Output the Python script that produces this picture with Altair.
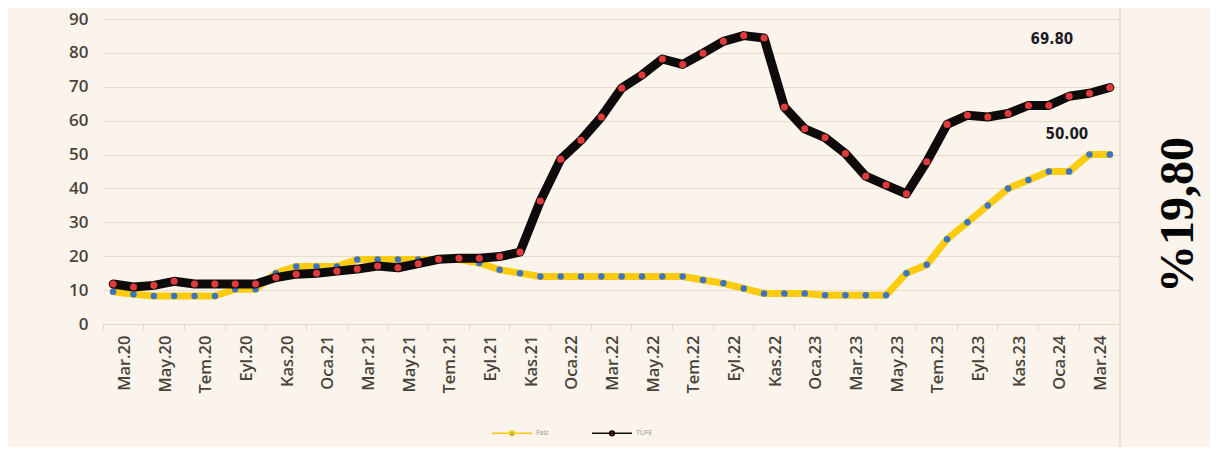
import altair as alt
import pandas as pd

months = ["Mar.20", "Nis.20", "May.20", "Haz.20", "Tem.20", "Ağu.20", "Eyl.20", "Eki.20", "Kas.20", "Ara.20",
          "Oca.21", "Şub.21", "Mar.21", "Nis.21", "May.21", "Haz.21", "Tem.21", "Ağu.21", "Eyl.21", "Eki.21",
          "Kas.21", "Ara.21", "Oca.22", "Şub.22", "Mar.22", "Nis.22", "May.22", "Haz.22", "Tem.22", "Ağu.22",
          "Eyl.22", "Eki.22", "Kas.22", "Ara.22", "Oca.23", "Şub.23", "Mar.23", "Nis.23", "May.23", "Haz.23",
          "Tem.23", "Ağu.23", "Eyl.23", "Eki.23", "Kas.23", "Ara.23", "Oca.24", "Şub.24", "Mar.24", "Nis.24"]

faiz = [9.5, 8.75, 8.25, 8.25, 8.25, 8.25, 10.25, 10.25, 15, 17,
        17, 17, 19, 19, 19, 19, 19, 19, 18, 16,
        15, 14, 14, 14, 14, 14, 14, 14, 14, 13,
        12, 10.5, 9, 9, 9, 8.5, 8.5, 8.5, 8.5, 15,
        17.5, 25, 30, 35, 40, 42.5, 45, 45, 50, 50]

tufe = [11.8, 10.9, 11.4, 12.6, 11.8, 11.8, 11.8, 11.8, 13.7, 14.7,
        15.0, 15.6, 16.2, 17.1, 16.6, 17.8, 19.1, 19.4, 19.4, 19.9,
        21.2, 36.3, 48.6, 54.2, 61.1, 69.6, 73.5, 78.2, 76.6, 79.9,
        83.4, 85.1, 84.4, 64.0, 57.6, 55.0, 50.3, 43.6, 41.0, 38.4,
        47.9, 58.9, 61.6, 61.1, 62.1, 64.5, 64.5, 67.2, 68.1, 69.8]

series = ["Faiz", "TÜFE"]
line_colors = ["#FCCB0C", "#0E0C0B"]
dot_colors = ["#3B75C2", "#E03A3C"]
y_ticks = [0, 10, 20, 30, 40, 50, 60, 70, 80, 90]
axis_labels = months[::2]
big_text = "%19,80"

rows = []
for m, v in zip(months, faiz):
    rows.append({"month": m, "series": "Faiz", "value": v})
for m, v in zip(months, tufe):
    rows.append({"month": m, "series": "TÜFE", "value": v})
df = pd.DataFrame(rows)
last = df[df["month"] == months[-1]]

W, H = 1017, 305
STEP = W / len(months)

x_enc = alt.X("month:N", sort=months,
              scale=alt.Scale(type="band", paddingInner=0, paddingOuter=0),
              axis=alt.Axis(title=None, values=axis_labels, bandPosition=0,
                            labelOffset=STEP / 2 + 1.5, labelAngle=-90,
                            labelFont="Open Sans", labelFontSize=16.5, labelFontWeight=600,
                            labelColor="#48443a", labelPadding=5,
                            tickSize=6, tickColor="#E6D6C2", domainColor="#E6D6C2",
                            grid=False, labelBound=False, labelOverlap=False))
y_enc = alt.Y("value:Q", scale=alt.Scale(domain=[0, 90], nice=False),
              axis=alt.Axis(title=None, values=y_ticks, domain=False, ticks=False,
                            labelFont="Open Sans", labelFontSize=17, labelFontWeight=600,
                            labelColor="#48443a", labelPadding=15, labelOverlap=False,
                            labelBound=False, gridColor="#EADCCA", gridWidth=1.2))

stroke_enc = alt.Stroke("series:N", scale=alt.Scale(domain=series, range=line_colors),
                        legend=alt.Legend(title=None))
fill_enc = alt.Fill("series:N", scale=alt.Scale(domain=series, range=dot_colors),
                    legend=alt.Legend(title=None))

base = alt.Chart(df).encode(x=x_enc, y=y_enc)

faiz_line = base.transform_filter(alt.datum.series == "Faiz").mark_line(
    strokeWidth=7, strokeJoin="round", strokeCap="round").encode(stroke=stroke_enc)
faiz_dots = base.transform_filter(alt.datum.series == "Faiz").mark_circle(
    size=42, opacity=1).encode(fill=fill_enc)
tufe_line = base.transform_filter(alt.datum.series == "TÜFE").mark_line(
    strokeWidth=9, strokeJoin="round", strokeCap="round").encode(stroke=stroke_enc)
tufe_dots = base.transform_filter(alt.datum.series == "TÜFE").mark_circle(
    size=50, opacity=1).encode(fill=fill_enc)

lab_base = alt.Chart(last).encode(
    x=x_enc, y=y_enc, text=alt.Text("value:Q", format=".2f"))
tufe_lab = lab_base.transform_filter(alt.datum.series == "TÜFE").mark_text(
    font="DejaVu Sans Condensed", fontWeight="bold", fontSize=15,
    color="#1b1b28", dx=-58, dy=-48)
faiz_lab = lab_base.transform_filter(alt.datum.series == "Faiz").mark_text(
    font="DejaVu Sans Condensed", fontWeight="bold", fontSize=15,
    color="#1b1b28", dx=-43, dy=-21)

frame_rule = alt.Chart(pd.DataFrame({"k": [0]})).mark_rule(
    color="#EADCCA", strokeWidth=1.5).encode(
    x=alt.value(W), y=alt.value(-14), y2=alt.value(430))

big = alt.Chart(pd.DataFrame({"t": [big_text]})).mark_text(
    font="Liberation Serif", fontWeight="bold", fontSize=48, angle=270,
    align="center", baseline="middle", color="#050505").encode(
    text="t:N", x=alt.value(1076), y=alt.value(196))

chart = alt.layer(faiz_line, faiz_dots, tufe_line, tufe_dots, tufe_lab, faiz_lab,
                  frame_rule, big).properties(
    width=W, height=H,
    autosize=alt.AutoSizeParams(type="none"),
    padding={"left": 95, "top": 11, "right": 90, "bottom": 123},
    background="#FBF4EC",
).configure_view(stroke=None).configure_legend(
    orient="none", legendX=388, legendY=393, direction="horizontal",
    symbolType="M-1,0H1M0.12,0A0.12,0.12,0,1,1,-0.12,0A0.12,0.12,0,1,1,0.12,0Z",
    symbolSize=1600, symbolStrokeWidth=1.5, labelFontSize=7, labelColor="#9a928a",
    labelFont="Open Sans", labelOffset=3, columnPadding=40,
)

chart.save("out.html", embed_options={"renderer": "svg", "actions": False})
